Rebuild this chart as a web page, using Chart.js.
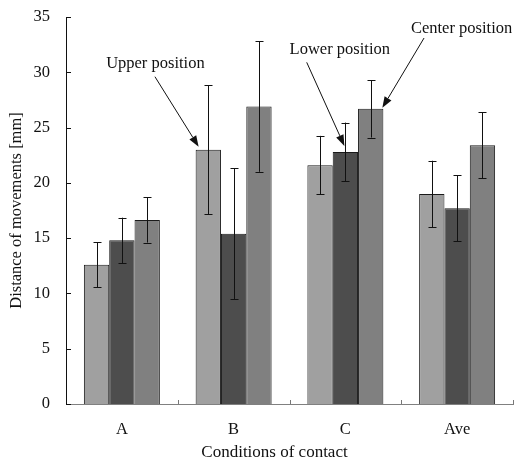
<!DOCTYPE html>
<html>
<head>
<meta charset="utf-8">
<script src="https://cdn.jsdelivr.net/npm/chart.js@4/dist/chart.umd.min.js"></script>
<style>
  html, body { margin: 0; padding: 0; background: #fff; }
  #wrap { width: 516px; height: 462px; }
</style>
</head>
<body>
<div id="wrap"><canvas id="grafico" width="516" height="462"></canvas></div>
<script>
const condicoes = ["A", "B", "C", "Ave"];
const seriesNomes = ["Upper position", "Lower position", "Center position"];

const upperValores = [12.6, 23.0, 21.6, 19.0];
const upperErros = [2.05, 5.85, 2.65, 3.0];
const lowerValores = [14.8, 15.4, 22.8, 17.7];
const lowerErros = [2.05, 5.9, 2.65, 3.0];
const centerValores = [16.65, 26.9, 26.7, 23.4];
const centerErros = [2.05, 5.9, 2.6, 3.0];

const yTicks = [0, 5, 10, 15, 20, 25, 30, 35];
const xTitulo = "Conditions of contact";

// annotations: text position and arrow start in data units (category index, mm)
const anotacoes = [
  { texto: "Upper position", tx: 0.30, ty: 30.8, ax: 0.296, ay: 29.6, serie: 0, cat: 1, canto: "left" },
  { texto: "Lower position", tx: 1.95, ty: 32.0, ax: 1.654, ay: 30.9, serie: 1, cat: 2, canto: "center" },
  { texto: "Center position", tx: 3.04, ty: 33.9, ax: 2.704, ay: 33.1, serie: 2, cat: 2, canto: "right" },
];

const erros = [upperErros, lowerErros, centerErros];
const fonte = "'Liberation Serif', 'Times New Roman', serif";
const tam = 16.5;

const errorBars = {
  id: "errorBars",
  afterDatasetsDraw(chart) {
    const ctx = chart.ctx;
    const y = chart.scales.y;
    ctx.save();
    ctx.strokeStyle = "#111";
    ctx.lineWidth = 1;
    chart.data.datasets.forEach((ds, i) => {
      const meta = chart.getDatasetMeta(i);
      meta.data.forEach((bar, j) => {
        const v = ds.data[j];
        const e = erros[i][j];
        const x = Math.round(bar.x) + 0.5;
        const y1 = y.getPixelForValue(v + e);
        const y2 = y.getPixelForValue(v - e);
        ctx.beginPath();
        ctx.moveTo(x, y1);
        ctx.lineTo(x, y2);
        ctx.moveTo(x - 4, Math.round(y1) + 0.5);
        ctx.lineTo(x + 4, Math.round(y1) + 0.5);
        ctx.moveTo(x - 4, Math.round(y2) + 0.5);
        ctx.lineTo(x + 4, Math.round(y2) + 0.5);
        ctx.stroke();
      });
    });
    ctx.restore();
  },
};

const ticksDentro = {
  id: "ticksDentro",
  afterDraw(chart) {
    const ctx = chart.ctx;
    const x = chart.scales.x;
    const y = chart.scales.y;
    const area = chart.chartArea;
    ctx.save();
    ctx.lineWidth = 1;
    ctx.strokeStyle = "#111";
    yTicks.forEach((t) => {
      const py = Math.round(y.getPixelForValue(t)) + 0.5;
      ctx.beginPath();
      ctx.moveTo(area.left, py);
      ctx.lineTo(area.left + 5, py);
      ctx.stroke();
    });
    ctx.strokeStyle = "#777";
    for (let i = 1; i <= condicoes.length; i++) {
      const px = Math.round(x.getPixelForValue(i - 0.5)) + 0.5;
      ctx.beginPath();
      ctx.moveTo(px, area.bottom);
      ctx.lineTo(px, area.bottom - 4);
      ctx.stroke();
    }
    // x title sits a bit left of the plot centre in the original
    ctx.font = "17px " + fonte;
    ctx.fillStyle = "#111";
    ctx.textAlign = "center";
    ctx.textBaseline = "middle";
    ctx.fillText(xTitulo, (area.left + area.right) / 2 - 15, 453);
    ctx.restore();
  },
};

const setas = {
  id: "setas",
  afterDraw(chart) {
    const ctx = chart.ctx;
    const x = chart.scales.x;
    const y = chart.scales.y;
    ctx.save();
    ctx.font = tam + "px " + fonte;
    ctx.fillStyle = "#111";
    ctx.strokeStyle = "#111";
    ctx.textAlign = "center";
    ctx.textBaseline = "middle";
    anotacoes.forEach((a) => {
      ctx.fillText(a.texto, x.getPixelForValue(a.tx), y.getPixelForValue(a.ty));
      const bar = chart.getDatasetMeta(a.serie).data[a.cat];
      let tx = bar.x;
      let ty = bar.y;
      if (a.canto === "left") { tx = bar.x - bar.width / 2 + 3; ty = bar.y - 3; }
      if (a.canto === "center") { tx = bar.x - 1; ty = bar.y - 6; }
      if (a.canto === "right") { tx = bar.x + bar.width / 2 - 1; ty = bar.y - 1; }
      const sx = x.getPixelForValue(a.ax);
      const sy = y.getPixelForValue(a.ay);
      const ang = Math.atan2(ty - sy, tx - sx);
      const len = 11;
      const meia = 4;
      const bx = tx - len * Math.cos(ang);
      const by = ty - len * Math.sin(ang);
      ctx.lineWidth = 1;
      ctx.beginPath();
      ctx.moveTo(sx, sy);
      ctx.lineTo(bx, by);
      ctx.stroke();
      ctx.beginPath();
      ctx.moveTo(tx, ty);
      ctx.lineTo(bx + meia * Math.sin(ang), by - meia * Math.cos(ang));
      ctx.lineTo(bx - meia * Math.sin(ang), by + meia * Math.cos(ang));
      ctx.closePath();
      ctx.fill();
    });
    ctx.restore();
  },
};

const ctx = document.getElementById("grafico");
window.meuGrafico = new Chart(ctx, {
  type: "bar",
  data: {
    labels: condicoes,
    datasets: [
      { label: seriesNomes[0], data: upperValores, backgroundColor: "#a0a0a0", borderColor: "#1a1a1a", borderWidth: 1 },
      { label: seriesNomes[1], data: lowerValores, backgroundColor: "#4d4d4d", borderColor: "#1a1a1a", borderWidth: 1 },
      { label: seriesNomes[2], data: centerValores, backgroundColor: "#808080", borderColor: "#1a1a1a", borderWidth: 1 },
    ],
  },
  options: {
    responsive: false,
    animation: false,
    devicePixelRatio: 1,
    layout: { autoPadding: false, padding: { top: 17, right: 3, left: 0, bottom: 0 } },
    datasets: { bar: { categoryPercentage: 0.68, barPercentage: 1.0 } },
    plugins: { legend: { display: false }, tooltip: { enabled: false } },
    scales: {
      x: {
        grid: { display: false, drawTicks: false },
        border: { display: true, color: "#808080", width: 1 },
        ticks: { color: "#111", padding: 16, font: { family: fonte, size: tam } },
        afterFit: (s) => { s.height = 58; },
      },
      y: {
        min: 0,
        max: 35,
        grid: { display: false, drawTicks: false },
        border: { display: true, color: "#111", width: 1 },
        // lineHeight kept tiny so the label padding does not push the plot top down
        ticks: { stepSize: 5, color: "#111", padding: 16, font: { family: fonte, size: tam, lineHeight: 0.1 } },
        title: { display: true, text: "Distance of movements [mm]", color: "#111", padding: { top: 7, bottom: 0 }, font: { family: fonte, size: tam } },
        afterFit: (s) => { s.width = 66; },
      },
    },
  },
  plugins: [errorBars, ticksDentro, setas],
});
</script>
</body>
</html>
